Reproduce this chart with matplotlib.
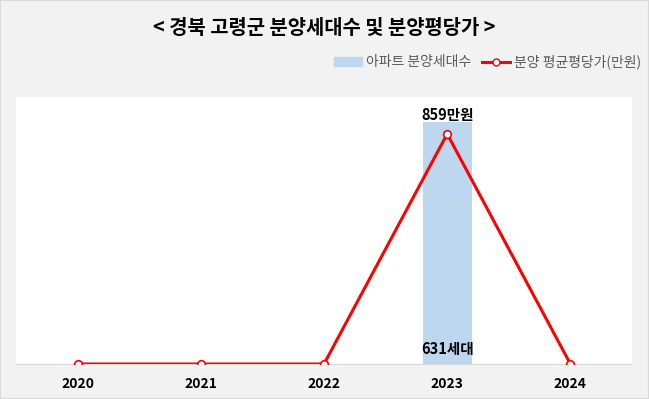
import matplotlib
matplotlib.use("Agg")
import matplotlib.pyplot as plt
from matplotlib.patches import Rectangle
from matplotlib.lines import Line2D

plt.rcParams['font.family'] = ['Noto Sans CJK KR', 'DejaVu Sans']

years = ['2020', '2021', '2022', '2023', '2024']
units = [0, 0, 0, 631, 0]
prices = [0, 0, 0, 859, 0]

fig = plt.figure(figsize=(6.49, 3.99), dpi=100, facecolor='#f2f2f2')
fig.patches.append(Rectangle((0, 0), 1, 1, transform=fig.transFigure, fill=False,
                             edgecolor='#d9d9d9', linewidth=1.5))

ax = fig.add_axes([16/649, 35/399, 616/649, 267/399])
ax.set_facecolor('white')
x = list(range(len(years)))
ax.bar(x, units, width=0.4, color='#bdd7ee', zorder=1)
ax.set_ylim(0, 696)
ax.set_xlim(-0.5, len(years) - 0.5)
ax.set_yticks([])
for s in ['top', 'right', 'left']:
    ax.spines[s].set_visible(False)
ax.spines['bottom'].set_color('#d9d9d9')
ax.set_xticks(x)
ax.set_xticklabels(years, fontsize=10, fontweight='bold')
ax.tick_params(axis='x', length=0, pad=9)

ax2 = ax.twinx()
ax2.plot(x, prices, color='#ff0000', linewidth=2.2, marker='o', markersize=5.5,
         markerfacecolor='white', markeredgecolor='#ff0000', markeredgewidth=1.2, zorder=3)
ax2.set_ylim(0, 997)
ax2.set_yticks([])
for s in ['top', 'right', 'left', 'bottom']:
    ax2.spines[s].set_visible(False)

for i, v in enumerate(units):
    if v > 0:
        ax.text(i, 18, f'{v}세대', ha='center', va='bottom', fontsize=10.5, fontweight='bold')
for i, v in enumerate(prices):
    if v > 0:
        ax2.text(i, v + 42, f'{v}만원', ha='center', va='bottom', fontsize=10.5, fontweight='bold')

fig.text(0.5, 1 - 27/399, '< 경북 고령군 분양세대수 및 분양평당가 >', ha='center', va='center',
         fontsize=14.3, fontweight='bold')

handles = [Rectangle((0, 0), 1, 1, color='#bdd7ee'),
           Line2D([0], [0], color='#ff0000', linewidth=2.2, marker='o', markersize=5,
                  markerfacecolor='white', markeredgecolor='#ff0000')]
fig.legend(handles, ['아파트 분양세대수', '분양 평균평당가(만원)'], loc='center right',
           bbox_to_anchor=(1 - 8/649, 1 - 62/399), ncol=2, frameon=False, fontsize=10,
           handlelength=2, handletextpad=0.3, columnspacing=0.8, labelcolor='#595959',
           borderaxespad=0, borderpad=0)

fig.savefig('out.png', dpi=100, facecolor=fig.get_facecolor())
